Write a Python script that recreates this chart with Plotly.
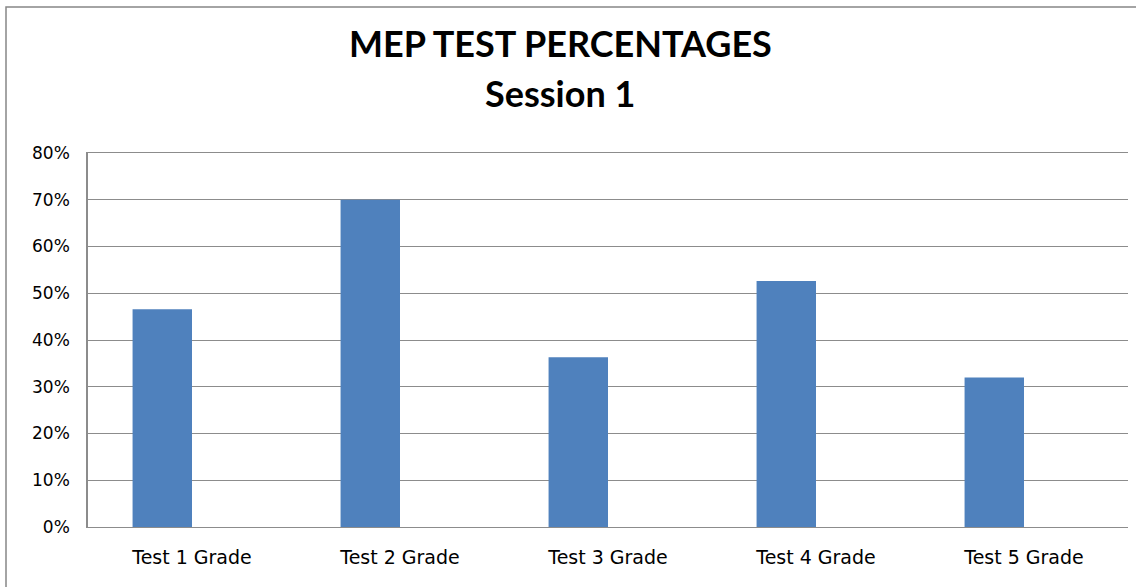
import plotly.graph_objects as go

categories = ["Test 1 Grade", "Test 2 Grade", "Test 3 Grade", "Test 4 Grade", "Test 5 Grade"]
percentages = [0.466, 0.70, 0.363, 0.526, 0.320]
y_ticks = [0, 0.1, 0.2, 0.3, 0.4, 0.5, 0.6, 0.7, 0.8]
y_tick_labels = ["0%", "10%", "20%", "30%", "40%", "50%", "60%", "70%", "80%"]
title_line1 = "MEP TEST PERCENTAGES"
title_line2 = "Session 1"

W, H = 1136, 587
L, R, T, B = 88, 8, 153, 60
pw, ph = W - L - R, H - T - B

bar_w = 1 / 3.5

fig = go.Figure()
fig.add_trace(go.Bar(
    x=categories, y=percentages,
    width=bar_w, offset=-bar_w,
    marker=dict(color="#4F81BD", line=dict(width=0)),
    hoverinfo="x+y",
))

def py(Y):
    return (H - B - Y) / ph

def px(X):
    return (X - L) / pw

fig.add_annotation(text="<b>" + title_line1 + "</b>", xref="paper", yref="paper",
                   x=px(560), y=py(43), showarrow=False, xanchor="center", yanchor="middle",
                   font=dict(family="Lato", size=36, color="#000000"))
fig.add_annotation(text="<b>" + title_line2 + "</b>", xref="paper", yref="paper",
                   x=px(560), y=py(93), showarrow=False, xanchor="center", yanchor="middle",
                   font=dict(family="Lato", size=36, color="#000000"))

fig.add_shape(type="rect", xref="paper", yref="paper",
              x0=px(6), y0=py(H + 20), x1=px(W + 20), y1=py(7),
              line=dict(color="#878787", width=1.5), fillcolor="rgba(0,0,0,0)", layer="below")

fig.update_layout(
    width=W, height=H,
    margin=dict(l=L, r=R, t=T, b=B, pad=0),
    paper_bgcolor="white", plot_bgcolor="white",
    showlegend=False,
    font=dict(family="DejaVu Sans", color="#000000"),
    xaxis=dict(
        type="category", range=[-0.5, 4.5],
        showline=True, linecolor="#8c8c8c", linewidth=1.2, mirror=True,
        showgrid=False, ticks="", tickfont=dict(size=19, family="DejaVu Sans"),
        ticklabelstandoff=13,
    ),
    yaxis=dict(
        range=[0, 0.8], tickvals=y_ticks, ticktext=y_tick_labels,
        showline=True, linecolor="#8c8c8c", linewidth=1.5,
        showgrid=True, gridcolor="#8c8c8c", gridwidth=1,
        zeroline=False, ticks="", tickfont=dict(size=17, family="DejaVu Sans"),
        ticklabelstandoff=13,
    ),
)

fig.write_html("out.html", config={"displayModeBar": False},
               post_script="document.body.style.margin='0';document.body.style.overflow='hidden';")
